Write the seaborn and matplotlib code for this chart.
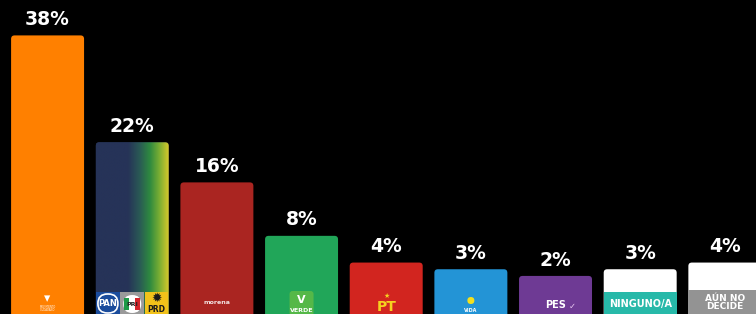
import numpy as np
import pandas as pd
import matplotlib
matplotlib.use("Agg")
import matplotlib.pyplot as plt
import seaborn as sns
from matplotlib.patches import FancyBboxPatch, Rectangle
from matplotlib.colors import LinearSegmentedColormap

# ---- data ----
parties = ["Movimiento Ciudadano", "PAN-PRI-PRD", "Morena", "Verde", "PT",
           "Vida", "PES", "Ninguno/a", "Aún no decide"]
values = [38, 22, 16, 8, 4, 3, 2, 3, 4]
value_labels = [f"{v}%" for v in values]
bar_colors = ["#FF8000", "#263358", "#AA2521", "#21A659", "#D2251F",
              "#2394D6", "#6E3A94", "#FFFFFF", "#FFFFFF"]

BASE = 3.7  # part of the bar hidden behind the logo strip / below the frame

sns.set_theme(style="dark")
plt.rcParams["font.family"] = ["DejaVu Sans"]

fig = plt.figure(figsize=(7.56, 3.14), dpi=100, facecolor="black")
ax = fig.add_axes([0, 0, 1, 1])
ax.set_facecolor("black")

df = pd.DataFrame({"party": parties, "value": values})
df["shown"] = df["value"] + BASE

sns.barplot(data=df, x="party", y="shown", hue="party", palette=bar_colors,
            saturation=1, width=0.862, legend=False, ax=ax)

X0, X1 = -0.562, 8.368
ax.set_xlim(X0, X1)
ax.set_ylim(0, 47.0)
ax.set_axis_off()

# data units per pixel
xpp = (X1 - X0) / 756
ypp = 47.0 / 314
aspect = ypp / xpp

patches = list(ax.patches)
new_patches = []
for p in patches:
    x, w, h = p.get_x(), p.get_width(), p.get_height()
    fc = p.get_facecolor()
    p.remove()
    fb = FancyBboxPatch((x, -3), w, h + 3,
                        boxstyle=f"round,pad=0,rounding_size={3.5*xpp}",
                        mutation_aspect=aspect, facecolor=fc,
                        edgecolor="none", zorder=2)
    ax.add_patch(fb)
    new_patches.append((fb, x, w, h))

# gradient for the coalition bar
fb, x, w, h = new_patches[1]
cmap = LinearSegmentedColormap.from_list(
    "coal", [(0, "#263358"), (0.44, "#263358"), (0.6, "#2a5a55"),
             (0.74, "#2e8a3f"), (0.87, "#7aae33"), (1.0, "#d8c92a")])
grad = np.linspace(0, 1, 256).reshape(1, -1)
im = ax.imshow(grad, extent=[x, x + w, -3, h], aspect="auto", cmap=cmap,
               zorder=3, interpolation="bilinear")
im.set_clip_path(fb)


def py(pix):
    return (314 - pix) * ypp


# value labels
for i, (fbw, x, w, h) in enumerate(new_patches):
    ax.annotate(value_labels[i], (i, h), xytext=(0, 7.5), textcoords="offset points",
                ha="center", va="baseline", color="white", fontsize=13.5,
                fontweight="bold", zorder=5)

# ---- logos (approximate) ----
# Movimiento Ciudadano
ax.text(0, py(299), "▾", color="white", ha="center", va="center", fontsize=9, zorder=5)
ax.text(0, py(308.5), "MOVIMIENTO\nCIUDADANO", color="white", ha="center",
        va="center", fontsize=1.8, zorder=5, linespacing=0.9)

# PAN / PRI / PRD squares
x1 = new_patches[1][1]
w1 = new_patches[1][2]
sq = w1 / 3
for k, c in enumerate(["#1B4C9C", "#9A9A9A", "#F2C21A"]):
    ax.add_patch(Rectangle((x1 + k * sq + 0.004, py(314)), sq - 0.008, py(292) - py(314),
                           facecolor=c, edgecolor="none", zorder=4))
cx = x1 + sq * 0.5
ax.add_patch(FancyBboxPatch((cx - 10 * xpp, py(313)), 20 * xpp, 19 * ypp,
                            boxstyle=f"round,pad=0,rounding_size={9.5*xpp}",
                            mutation_aspect=aspect, facecolor="#1B4C9C",
                            edgecolor="white", lw=1.2, zorder=5))
ax.text(cx, py(303.5), "PAN", color="white", ha="center", va="center",
        fontsize=6, fontweight="bold", zorder=6)
cx = x1 + sq * 1.5
ax.add_patch(FancyBboxPatch((cx - 9 * xpp, py(313)), 18 * xpp, 18 * ypp,
                            boxstyle=f"round,pad=0,rounding_size={9*xpp}",
                            mutation_aspect=aspect, facecolor="white",
                            edgecolor="none", zorder=5))
ax.add_patch(Rectangle((cx - 8 * xpp, py(310)), 5 * xpp, 12 * ypp,
                       facecolor="#1E9A48", edgecolor="none", zorder=5))
ax.add_patch(Rectangle((cx + 3 * xpp, py(310)), 5 * xpp, 12 * ypp,
                       facecolor="#D3232A", edgecolor="none", zorder=5))
ax.text(cx, py(304), "PRI", color="#222222", ha="center", va="center",
        fontsize=4.5, fontweight="bold", zorder=6)
cx = x1 + sq * 2.5
ax.text(cx, py(298), "✹", color="#1a1a1a", ha="center", va="center",
        fontsize=9, zorder=6)
ax.text(cx, py(310), "PRD", color="#1a1a1a", ha="center", va="center",
        fontsize=5.5, fontweight="bold", zorder=6)

# Morena
ax.text(2, py(303), "morena", color="white", ha="center", va="center",
        fontsize=4.5, fontweight="bold", alpha=0.85, zorder=5)

# Verde
ax.add_patch(FancyBboxPatch((3 - 12 * xpp, py(316)), 24 * xpp, 25 * ypp,
                            boxstyle=f"round,pad=0,rounding_size={3*xpp}",
                            mutation_aspect=aspect, facecolor="#55B848",
                            edgecolor="none", zorder=4))
ax.text(3, py(300), "V", color="white", ha="center", va="center",
        fontsize=8, fontweight="bold", zorder=5)
ax.text(3, py(310), "VERDE", color="white", ha="center", va="center",
        fontsize=4.5, fontweight="bold", zorder=5)

# PT
ax.text(4, py(296), "★", color="#F5D21F", ha="center", va="center",
        fontsize=5, zorder=5)
ax.text(4, py(307), "PT", color="#F5D21F", ha="center", va="center",
        fontsize=10, fontweight="bold", zorder=5)

# Vida
ax.add_patch(FancyBboxPatch((5 - 3.5 * xpp, py(304)), 7 * xpp, 7 * ypp,
                            boxstyle=f"round,pad=0,rounding_size={3.5*xpp}",
                            mutation_aspect=aspect, facecolor="#F3E01E",
                            edgecolor="none", zorder=5))
ax.text(5, py(310.5), "VIDA", color="white", ha="center", va="center",
        fontsize=3.5, fontweight="bold", zorder=5)

# PES
ax.text(6, py(305), "PES", color="white", ha="center", va="center",
        fontsize=7, fontweight="bold", zorder=5)
ax.text(6 + 17 * xpp, py(306), "✓", color="#E9C8F2", ha="center", va="center",
        fontsize=6, zorder=5)

# Ninguno/a band
fb, x, w, h = new_patches[7]
ax.add_patch(Rectangle((x, py(315)), w, py(292) - py(315),
                       facecolor="#27B9A9", edgecolor="none", zorder=4))
ax.text(7, py(303.5), "NINGUNO/A", color="white", ha="center", va="center",
        fontsize=7, fontweight="bold", zorder=5)

# Aún no decide band
fb, x, w, h = new_patches[8]
ax.add_patch(Rectangle((x, py(315)), w, py(290) - py(315),
                       facecolor="#939393", edgecolor="none", zorder=4))
ax.text(8, py(302.5), "AÚN NO\nDECIDE", color="white", ha="center", va="center",
        fontsize=6.5, fontweight="bold", linespacing=0.85, zorder=5)

fig.savefig("out.png", dpi=100, facecolor="black")
